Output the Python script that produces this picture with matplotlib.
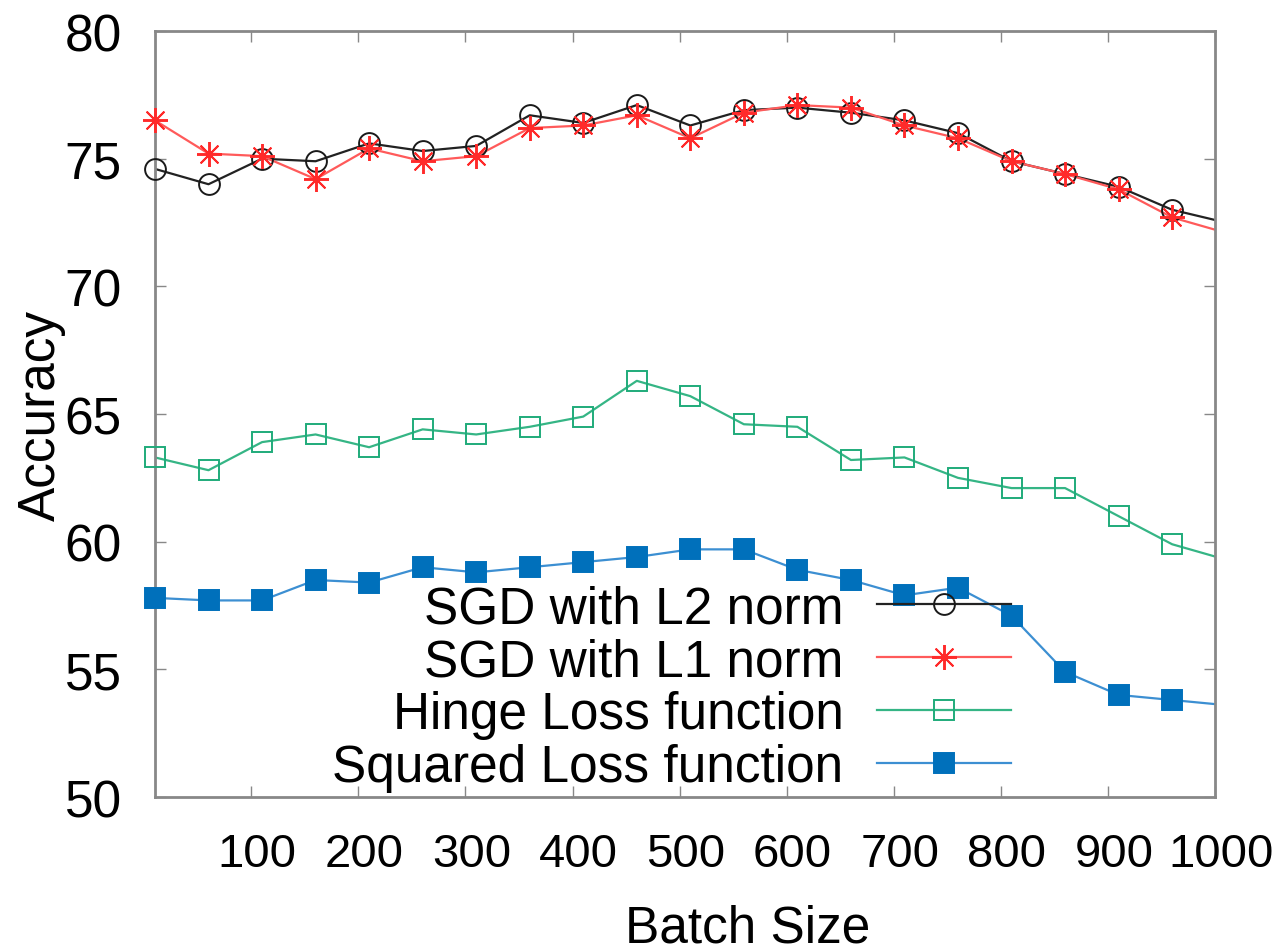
import matplotlib
matplotlib.use("Agg")
import matplotlib.pyplot as plt
import matplotlib.transforms as mtransforms
from matplotlib.lines import Line2D

plt.rcParams['font.family'] = ['Liberation Sans', 'DejaVu Sans']

# batch sizes (last one lies just past the axis edge, only its line is visible)
batch_sizes = [10, 60, 110, 160, 210, 260, 310, 360, 410, 460,
               510, 560, 610, 660, 710, 760, 810, 860, 910, 960, 1010]

sgd_l2 = [74.6, 74.0, 75.0, 74.9, 75.6, 75.3, 75.5, 76.7, 76.4, 77.1,
          76.3, 76.9, 77.0, 76.8, 76.5, 76.0, 74.9, 74.4, 73.9, 73.0, 72.5]
sgd_l1 = [76.5, 75.2, 75.1, 74.2, 75.4, 74.9, 75.1, 76.2, 76.3, 76.7,
          75.8, 76.8, 77.1, 77.0, 76.3, 75.8, 74.9, 74.4, 73.8, 72.7, 72.1]
hinge = [63.3, 62.8, 63.9, 64.2, 63.7, 64.4, 64.2, 64.5, 64.9, 66.3,
         65.7, 64.6, 64.5, 63.2, 63.3, 62.5, 62.1, 62.1, 61.0, 59.9, 59.3]
squared = [57.8, 57.7, 57.7, 58.5, 58.4, 59.0, 58.8, 59.0, 59.2, 59.4,
           59.7, 59.7, 58.9, 58.5, 57.9, 58.2, 57.1, 54.9, 54.0, 53.8, 53.6]

labels = ["SGD with L2 norm", "SGD with L1 norm", "Hinge Loss function", "Squared Loss function"]
x_ticks = [100, 200, 300, 400, 500, 600, 700, 800, 900, 1000]
y_ticks = [50, 55, 60, 65, 70, 75, 80]

styles = [
    dict(color="#1a1a1a", lcolor="#222222", marker="o", mfc="none", ms=15),
    dict(color="#ff2a2a", lcolor="#ff5a5a", marker=(8, 2, 0), mfc="none", ms=18),
    dict(color="#1fab7a", lcolor="#35b585", marker="s", mfc="none", ms=14.5),
    dict(color="#0070bb", lcolor="#3c8fd2", marker="s", mfc="#0070bb", ms=14.5),
]

fig = plt.figure(figsize=(12.85, 9.53), dpi=100)
ax = fig.add_axes([0.1206, 0.1626, 0.8249, 0.8038])

n_pts = 20  # points inside the range get markers
handles = []
for series, st in zip([sgd_l2, sgd_l1, hinge, squared], styles):
    ax.plot(batch_sizes, series, color=st["lcolor"], lw=1.6, zorder=2)
    ax.plot(batch_sizes[:n_pts], series[:n_pts], ls="none", marker=st["marker"],
            ms=st["ms"], mfc=st["mfc"], mec=st["color"], mew=1.4,
            clip_on=False, zorder=4)
    handles.append(Line2D([], [], color=st["lcolor"], lw=1.6, marker=st["marker"],
                          ms=st["ms"], mfc=st["mfc"], mec=st["color"], mew=1.4))

ax.set_xlim(10, 1000)
ax.set_ylim(50, 80)
ax.set_xticks(x_ticks)
ax.set_yticks(y_ticks)
ax.tick_params(direction="in", length=8, width=1, color="#888888",
               top=True, right=True, pad=24)
ax.tick_params(axis="y", labelsize=37)
ax.tick_params(axis="x", labelsize=34, pad=25)
for sp in ax.spines.values():
    sp.set_color("#888888")
    sp.set_linewidth(2)

# gnuplot puts the x labels a bit to the right of the ticks
offset = mtransforms.ScaledTranslation(6 / 100, 0, fig.dpi_scale_trans)
for lab in ax.get_xticklabels():
    lab.set_transform(lab.get_transform() + offset)

ax.set_xlabel("Batch Size", fontsize=37, labelpad=20, x=0.559)
ax.set_ylabel("Accuracy", fontsize=37, labelpad=-1)

leg = ax.legend(handles, labels, loc="lower right", bbox_to_anchor=(0.812, 0.0),
                frameon=False, markerfirst=False, fontsize=37, handlelength=2.6,
                handletextpad=0.65, labelspacing=0.075, borderpad=0.1, borderaxespad=0)

fig.savefig("out.png", dpi=100)
